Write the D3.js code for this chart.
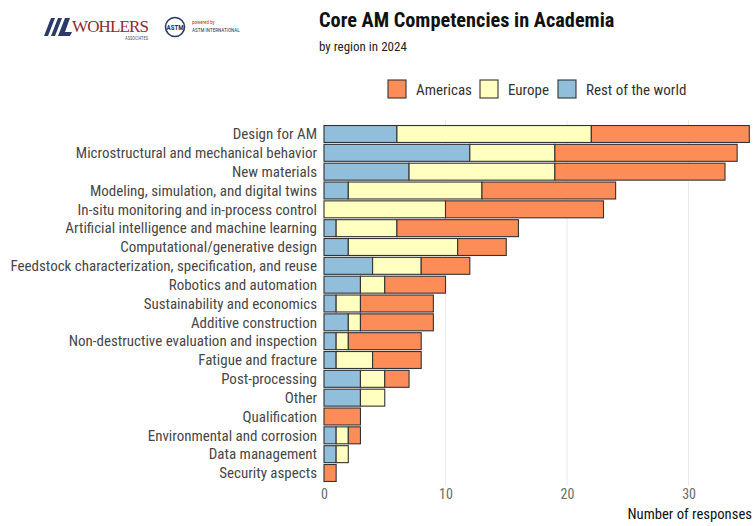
<!DOCTYPE html>
<html><head><meta charset="utf-8">
<script src="https://cdn.jsdelivr.net/npm/d3@7"></script>
<style>body{margin:0;background:#fff}svg{display:block;font-family:"Roboto Condensed","Liberation Sans",Arial,sans-serif}</style>
</head><body><svg id="c" width="754" height="526"></svg>
<script>
const categories = ["Design for AM","Microstructural and mechanical behavior","New materials","Modeling, simulation, and digital twins","In-situ monitoring and in-process control","Artificial intelligence and machine learning","Computational/generative design","Feedstock characterization, specification, and reuse","Robotics and automation","Sustainability and economics","Additive construction","Non-destructive evaluation and inspection","Fatigue and fracture","Post-processing","Other","Qualification","Environmental and corrosion","Data management","Security aspects"];
const restOfWorld = [6,12,7,2,0,1,2,4,3,1,2,1,1,3,3,0,1,1,0];
const europe      = [16,7,12,11,10,5,9,4,2,2,1,1,3,2,2,0,1,1,0];
const americas    = [13,15,14,11,13,10,4,4,5,6,6,6,4,2,0,3,1,0,1];
const seriesNames = ["Rest of the world","Europe","Americas"];
const legendOrder = ["Americas","Europe","Rest of the world"];
const xTicks = [0,10,20,30];
const colors = {"Americas":"#fc8d59","Europe":"#ffffbf","Rest of the world":"#91bfdb"};
const FONT = "Roboto Condensed, Liberation Sans, Arial, sans-serif";

const svg = d3.select("#c");
const rows = categories.map((c,i)=>({cat:c,"Rest of the world":restOfWorld[i],"Europe":europe[i],"Americas":americas[i]}));
const stack = d3.stack().keys(seriesNames)(rows);

const x = d3.scaleLinear().domain([0,35]).range([324,749.3]);
const y = d3.scalePoint().domain(categories).range([122.7,484.3]).padding(0.6);
const bh = y.step()*0.9;

// gridlines
svg.append("g").selectAll("line").data(xTicks).join("line")
  .attr("x1",d=>x(d)).attr("x2",d=>x(d)).attr("y1",120).attr("y2",486)
  .attr("stroke","#ebebeb").attr("stroke-width",1.1);

// bars
svg.append("g").selectAll("g").data(stack).join("g")
  .attr("fill",d=>colors[d.key])
  .selectAll("rect").data(d=>d.filter(s=>s[1]-s[0]>0)).join("rect")
  .attr("x",d=>x(d[0])).attr("width",d=>x(d[1])-x(d[0]))
  .attr("y",d=>y(d.data.cat)-bh/2).attr("height",bh)
  .attr("stroke","#333").attr("stroke-width",1.1);

// y labels
const ya = svg.append("g").attr("transform","translate(324,0)")
  .call(d3.axisLeft(y).tickSize(0).tickPadding(7));
ya.select(".domain").remove();
ya.selectAll("text").attr("font-size",15).attr("fill","#474747").attr("font-family",FONT);

// x axis
const xa = svg.append("g").attr("transform","translate(0,486)")
  .call(d3.axisBottom(x).tickValues(xTicks).tickSize(0).tickPadding(3));
xa.select(".domain").remove();
xa.selectAll("text").attr("font-size",14).attr("fill","#6b6b6b").attr("font-family",FONT);

svg.append("text").attr("x",752).attr("y",519).attr("text-anchor","end")
  .attr("font-size",14.7).attr("fill","#111").text("Number of responses");

// title
svg.append("text").attr("x",319).attr("y",27).attr("font-size",20.3).attr("font-weight","bold").attr("fill","#111")
  .text("Core AM Competencies in Academia");
svg.append("text").attr("x",319).attr("y",51).attr("font-size",13).attr("fill","#222").text("by region in 2024");

// legend
const lg = svg.append("g");
const lx = [388,480,558];
legendOrder.forEach((k,i)=>{
  lg.append("rect").attr("x",lx[i]).attr("y",80).attr("width",18).attr("height",18)
    .attr("fill",colors[k]).attr("stroke","#333").attr("stroke-width",1.1);
  lg.append("text").attr("x",lx[i]+28).attr("y",95).attr("font-size",15).attr("fill","#333").text(k);
});

// logos (approximation)
const logo = svg.append("g");
[0,1,2].forEach(i=>{
  logo.append("path").attr("d",`M${44+i*7},36 L${51+i*7},18 L${55+i*7},18 L${48+i*7},36 Z`).attr("fill","#2b3a67");
});
logo.append("path").attr("d","M60,36 L67,18 L70,18 L65,32 L72,32 L70,36 Z").attr("fill","#2b3a67");
logo.append("text").attr("x",72).attr("y",32).attr("font-family","Liberation Serif, serif").attr("font-size",17)
  .attr("fill","#8c2a2f").attr("textLength",77).text("WOHLERS");
logo.append("text").attr("x",148).attr("y",40).attr("text-anchor","end").attr("font-size",4.5).attr("fill","#555").text("ASSOCIATES");
logo.append("circle").attr("cx",175).attr("cy",27).attr("r",9.5).attr("fill","#fff").attr("stroke","#2b3a67").attr("stroke-width",1.6);
logo.append("text").attr("x",175).attr("y",30).attr("text-anchor","middle").attr("font-size",7).attr("font-weight","bold").attr("fill","#2b3a67").text("ASTM");
logo.append("text").attr("x",192).attr("y",24).attr("font-size",5).attr("fill","#c0392b").text("powered by");
logo.append("text").attr("x",192).attr("y",32).attr("font-size",5.2).attr("fill","#2b3a67").text("ASTM INTERNATIONAL");
</script></body></html>
